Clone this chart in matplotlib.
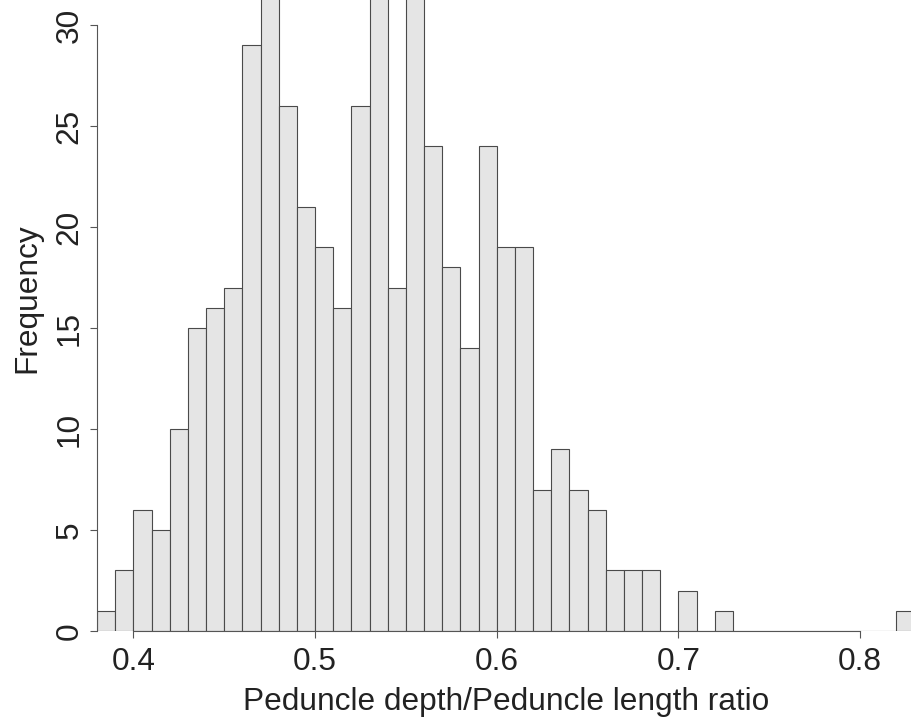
import matplotlib
matplotlib.use("Agg")
import matplotlib.pyplot as plt
import numpy as np

# Histogram counts, bins of width 0.01 starting at 0.38
bin_start = 0.38
bin_width = 0.01
counts = [1, 3, 6, 5, 10, 15, 16, 17, 29, 32,
          26, 21, 19, 16, 26, 33, 17, 32, 24, 18,
          14, 24, 19, 19, 7, 9, 7, 6, 3, 3,
          3, 0, 2, 0, 1, 0, 0, 0, 0, 0,
          0, 0, 0, 0, 1]
x_ticks = [0.4, 0.5, 0.6, 0.7, 0.8]
y_ticks = [0, 5, 10, 15, 20, 25, 30]

plt.rcParams["font.family"] = ["Liberation Sans", "DejaVu Sans"]
FS = 22.8

fig = plt.figure(figsize=(9.12, 7.19), dpi=100)
ax = fig.add_axes([97 / 912, 88 / 719, 815 / 912, 631 / 719])

lefts = bin_start + bin_width * np.arange(len(counts))
ax.bar(lefts, counts, width=bin_width, align="edge",
       color="#e5e5e5", edgecolor="#4a4a4a", linewidth=0.8)

ax.set_xlim(0.38, 0.38 + 815 / 1817)
ax.set_ylim(0, 631 / 20.2)

for side in ("top", "right"):
    ax.spines[side].set_visible(False)
ax.spines["left"].set_bounds(0, 30)
ax.spines["bottom"].set_bounds(0.4, 0.8)
for side in ("left", "bottom"):
    ax.spines[side].set_color("#555555")
    ax.spines[side].set_linewidth(0.8)

ax.set_xticks(x_ticks)
ax.set_xticklabels([f"{t:g}" for t in x_ticks])
ax.set_yticks(y_ticks)
ax.set_yticklabels([str(t) for t in y_ticks], rotation=90, va="center")
ax.tick_params(length=5, width=0.8, color="#555555",
               labelsize=FS, labelcolor="#222222")
ax.tick_params(axis="x", pad=6.5)
ax.tick_params(axis="y", pad=3.9)

ax.set_xlabel("Peduncle depth/Peduncle length ratio", fontsize=FS,
              color="#222222")
ax.set_ylabel("Frequency", fontsize=FS, color="#222222")
ax.xaxis.set_label_coords(0.502, -0.0887)
ax.yaxis.set_label_coords(-0.0675, 0.528)

fig.savefig("out.png", dpi=100)
